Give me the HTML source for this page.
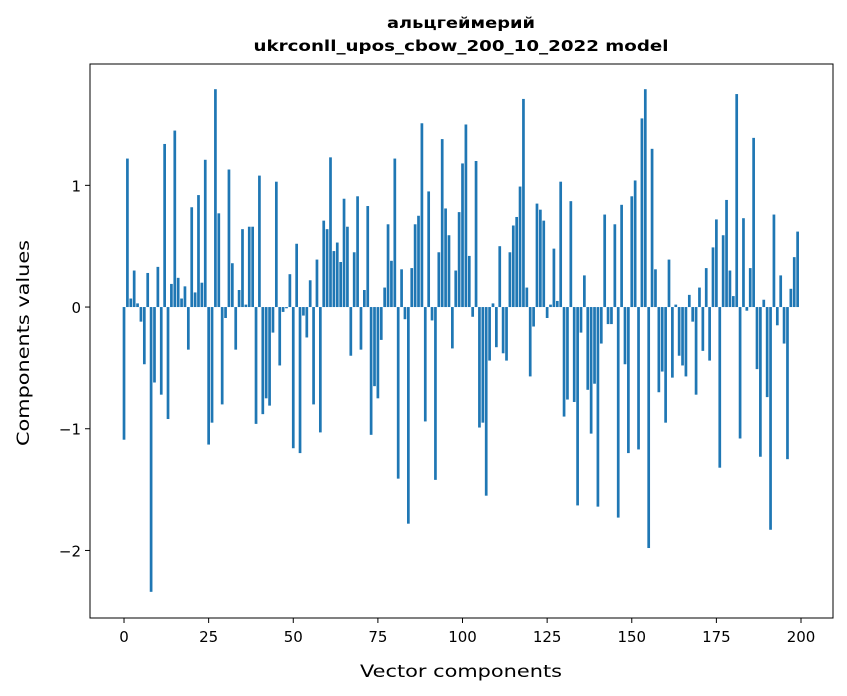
<!DOCTYPE html>
<html><head><meta charset="utf-8"><style>
body{margin:0;background:#fff}
svg{display:block;font-family:"DejaVu Sans","Liberation Sans",sans-serif}
</style></head><body>
<svg id="chart" width="847" height="696" viewBox="0 0 847 696">
<rect width="847" height="696" fill="#fff"/>
<text x="461" y="28" text-anchor="middle" font-size="15" font-weight="bold" textLength="148" lengthAdjust="spacingAndGlyphs">альцгеймерий</text>
<text x="461" y="51" text-anchor="middle" font-size="15" font-weight="bold" textLength="415" lengthAdjust="spacingAndGlyphs">ukrconll_upos_cbow_200_10_2022 model</text>
<g id="bars"></g>
<g id="xticks"></g>
<g id="yticks"></g>
<rect x="90" y="64" width="743" height="554" fill="none" stroke="#000" stroke-width="1"/>
<text x="461" y="677" text-anchor="middle" font-size="17" textLength="202" lengthAdjust="spacingAndGlyphs">Vector components</text>
<text transform="translate(29,343) rotate(-90)" text-anchor="middle" font-size="17" textLength="206" lengthAdjust="spacingAndGlyphs">Components values</text>
</svg>
<script>
const values = [
-1.09,1.22,0.07,0.30,0.03,-0.12,-0.47,0.28,-2.34,-0.62,
0.33,-0.72,1.34,-0.92,0.19,1.45,0.24,0.07,0.17,-0.35,
0.82,0.12,0.92,0.20,1.21,-1.13,-0.95,1.79,0.77,-0.80,
-0.09,1.13,0.36,-0.35,0.14,0.64,0.02,0.66,0.66,-0.96,
1.08,-0.88,-0.75,-0.81,-0.21,1.03,-0.48,-0.04,-0.01,0.27,
-1.16,0.52,-1.20,-0.07,-0.25,0.22,-0.80,0.39,-1.03,0.71,
0.64,1.23,0.46,0.53,0.37,0.89,0.66,-0.40,0.45,0.91,
-0.35,0.14,0.83,-1.05,-0.65,-0.75,-0.27,0.16,0.68,0.38,
1.22,-1.41,0.31,-0.10,-1.78,0.32,0.68,0.75,1.51,-0.94,
0.95,-0.11,-1.42,0.45,1.38,0.81,0.59,-0.34,0.30,0.78,
1.18,1.50,0.42,-0.08,1.20,-0.99,-0.95,-1.55,-0.44,0.03,
-0.33,0.50,-0.38,-0.44,0.45,0.67,0.74,0.99,1.71,0.16,
-0.57,-0.16,0.85,0.80,0.71,-0.09,0.02,0.48,0.05,1.03,
-0.90,-0.76,0.87,-0.78,-1.63,-0.21,0.26,-0.68,-1.04,-0.63,
-1.64,-0.30,0.76,-0.14,-0.14,0.68,-1.73,0.84,-0.47,-1.20,
0.91,1.04,-1.17,1.55,1.79,-1.98,1.30,0.31,-0.70,-0.53,
-0.95,0.39,-0.58,0.02,-0.40,-0.48,-0.57,0.10,-0.12,-0.72,
0.16,-0.36,0.32,-0.44,0.49,0.72,-1.32,0.59,0.88,0.30,
0.09,1.75,-1.08,0.73,-0.03,0.32,1.39,-0.51,-1.23,0.06,
-0.74,-1.83,0.76,-0.15,0.26,-0.30,-1.25,0.15,0.41,0.62
];
const xTickLabels = [0,25,50,75,100,125,150,175,200];
const yTickLabels = [-2,-1,0,1];
const NS = "http://www.w3.org/2000/svg";
const X0=90,X1=833,Y0=64,Y1=618;
const xMin=-10.05,xMax=209.45,yMin=-2.555,yMax=1.997;
function xs(v){return X0+(v-xMin)/(xMax-xMin)*(X1-X0);}
function ys(v){return Y1-(v-yMin)/(yMax-yMin)*(Y1-Y0);}
const bars=document.getElementById('bars');
const bw=xs(0.8)-xs(0);
values.forEach((v,i)=>{
  const r=document.createElementNS(NS,'rect');
  const y=Math.min(ys(v),ys(0)), h=Math.abs(ys(v)-ys(0));
  r.setAttribute('x',xs(i)-bw/2);r.setAttribute('y',y);
  r.setAttribute('width',bw);r.setAttribute('height',h);
  r.setAttribute('fill','#1f77b4');
  
  
  bars.appendChild(r);
});
const xt=document.getElementById('xticks');
xTickLabels.forEach(t=>{
  const x=xs(t);
  const l=document.createElementNS(NS,'line');
  l.setAttribute('x1',x);l.setAttribute('x2',x);l.setAttribute('y1',Y1);l.setAttribute('y2',Y1+5);
  l.setAttribute('stroke','#000');
  
  
  xt.appendChild(l);
  const tx=document.createElementNS(NS,'text');
  tx.setAttribute('x',x);tx.setAttribute('y',Y1+24);tx.setAttribute('text-anchor','middle');tx.setAttribute('font-size','15');
  tx.textContent=t;
  
  
  xt.appendChild(tx);
});
const yt=document.getElementById('yticks');
yTickLabels.forEach(t=>{
  const y=ys(t);
  const l=document.createElementNS(NS,'line');
  l.setAttribute('x1',X0-5);l.setAttribute('x2',X0);l.setAttribute('y1',y);l.setAttribute('y2',y);
  l.setAttribute('stroke','#000');
  
  
  yt.appendChild(l);
  const tx=document.createElementNS(NS,'text');
  tx.setAttribute('x',X0-9);tx.setAttribute('y',y+6);tx.setAttribute('text-anchor','end');tx.setAttribute('font-size','15');
  tx.textContent=t<0?'\u2212'+Math.abs(t):String(t);
  
  
  yt.appendChild(tx);
});
</script>
</body></html>
